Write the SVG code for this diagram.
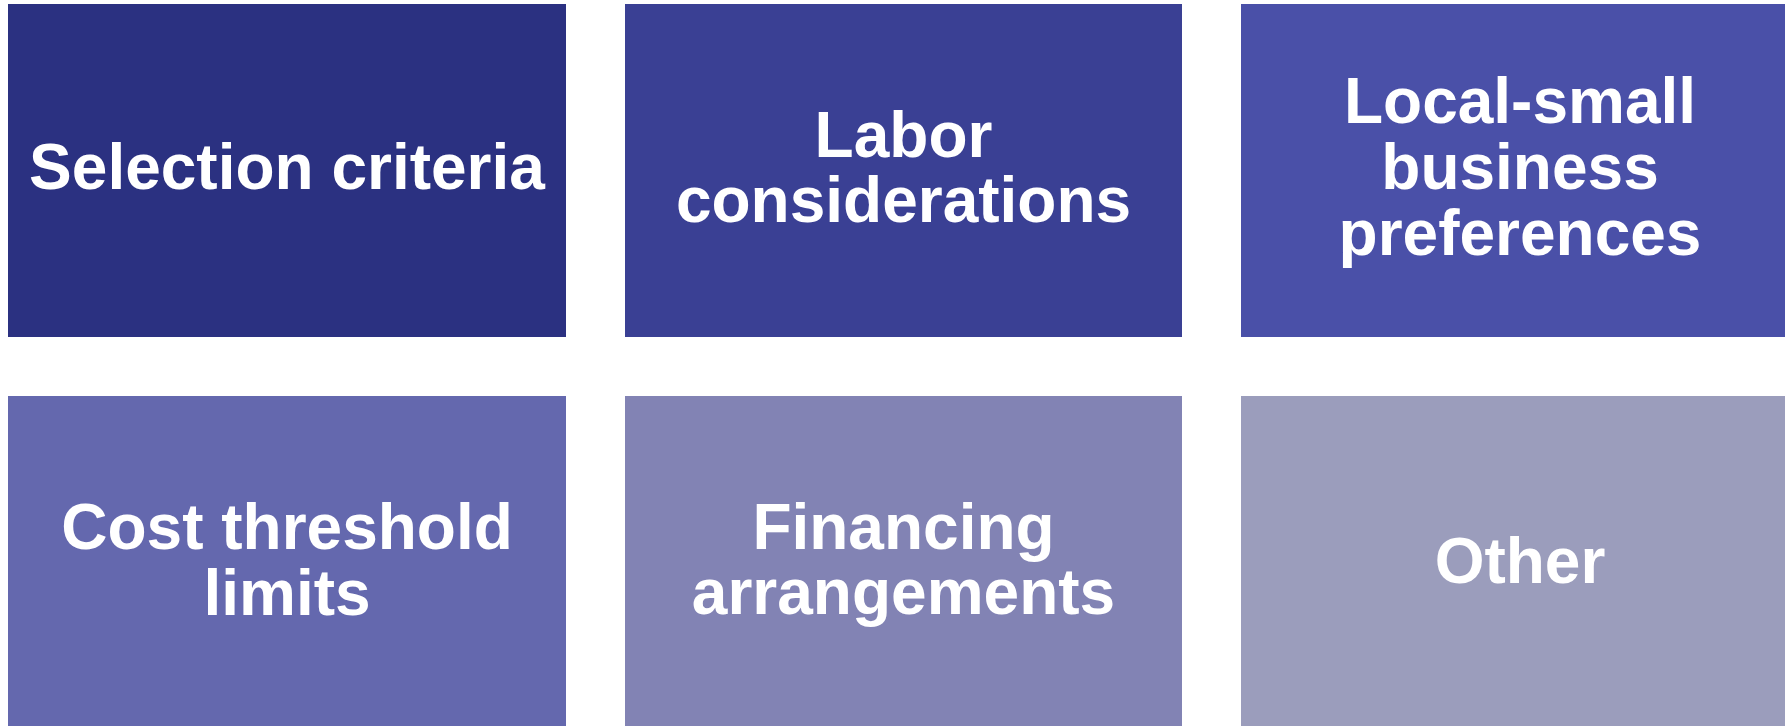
<svg xmlns="http://www.w3.org/2000/svg" width="1785" height="726" viewBox="0 0 1785 726">
<style>
text{font-family:"Liberation Sans",Arial,sans-serif;font-weight:bold;font-size:64px;fill:#ffffff;text-anchor:middle}
</style>
<rect width="1785" height="726" fill="#ffffff"/>
<g id="node1"><rect x="8" y="4" width="558" height="333" fill="#2B3181"/><text x="287" y="189">Selection criteria</text></g>
<g id="node2"><rect x="625" y="4" width="557" height="333" fill="#3A4094"/><text x="903.5" y="157">Labor</text><text x="903.5" y="222">considerations</text></g>
<g id="node3"><rect x="1241" y="4" width="558" height="333" fill="#4A50A8"/><text x="1520" y="123">Local-small</text><text x="1520" y="189">business</text><text x="1520" y="255">preferences</text></g>
<g id="node4"><rect x="8" y="396" width="558" height="333" fill="#6468AE"/><text x="287" y="549">Cost threshold</text><text x="287" y="615">limits</text></g>
<g id="node5"><rect x="625" y="396" width="557" height="333" fill="#8283B4"/><text x="903.5" y="549">Financing</text><text x="903.5" y="614">arrangements</text></g>
<g id="node6"><rect x="1241" y="396" width="558" height="333" fill="#9B9DBC"/><text x="1520" y="583">Other</text></g>
<g id="connectors"/>
</svg>
